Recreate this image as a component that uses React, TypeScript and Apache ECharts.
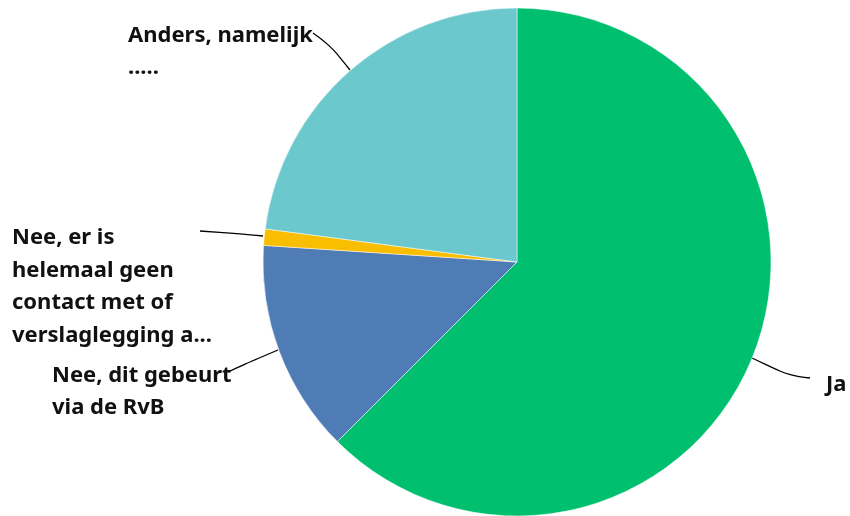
import React, { useEffect, useRef } from "react";
import * as echarts from "echarts";

const categories = [
  "Ja",
  "Nee, dit gebeurt via de RvB",
  "Nee, er is helemaal geen contact met of verslaglegging a...",
  "Anders, namelijk .....",
];
const labelTexts = [
  "Ja",
  "Nee, dit gebeurt\nvia de RvB",
  "Nee, er is\nhelemaal geen\ncontact met of\nverslaglegging a...",
  "Anders, namelijk\n.....",
];
const values = [60, 13, 1, 22];
const colors = ["#00BF6F", "#507CB6", "#F9BE00", "#6BC8CD"];

export default function App() {
  const ref = useRef<HTMLDivElement>(null);
  useEffect(() => {
    if (!ref.current) return;
    const chart = echarts.init(ref.current, null, { renderer: "svg" });
    const labelPos = [
      { x: 826, y: 382 },
      { x: 52, y: 389 },
      { x: 12, y: 284 },
      { x: 128, y: 49 },
    ];
    const linePts = [
      [[752, 358], [790, 376], [810, 378]],
      [[278, 350], [245, 364], [228, 372]],
      [[263, 236], [230, 233], [200, 231]],
      [[350, 70], [330, 45], [313, 33]],
    ];
    chart.setOption({
      animation: false,
      series: [
        {
          type: "pie",
          center: [517, 262],
          radius: 254,
          startAngle: 90,
          clockwise: true,
          data: categories.map((c, i) => ({
            name: c,
            value: values[i],
            itemStyle: { color: colors[i] },
            label: { formatter: labelTexts[i] },
          })),
          itemStyle: { borderColor: "#ffffff", borderWidth: 0.5 },
          label: {
            show: true,
            color: "#111111",
            fontFamily: "Noto Sans",
            fontWeight: "bold",
            fontSize: 22,
            lineHeight: 32.5,
            align: "left",
          },
          labelLine: {
            show: true,
            smooth: 0.4,
            lineStyle: { color: "#000000", width: 1.3 },
          },
          labelLayout: (params: any) => {
            const i = params.dataIndex;
            const p = labelPos[i];
            return {
              x: p.x,
              y: p.y,
              align: "left",
              verticalAlign: "middle",
              labelLinePoints: linePts[i],
            };
          },
          emphasis: { disabled: true },
        },
      ],
    });
    return () => chart.dispose();
  }, []);
  return (
    <div
      ref={ref}
      style={{ position: "fixed", left: 0, top: 0, width: 850, height: 516 }}
    />
  );
}
